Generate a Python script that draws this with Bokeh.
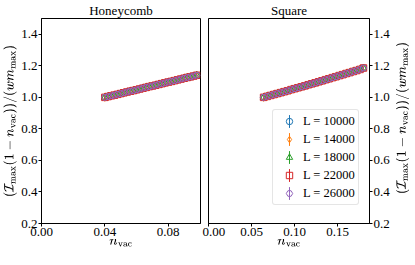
import math
from bokeh.plotting import figure
from bokeh.layouts import row
from bokeh.models import Range1d, FixedTicker, PrintfTickFormatter, Legend, LegendItem
from bokeh.embed import file_html
from bokeh.resources import INLINE

# ---- data ----
L_values = [10000, 14000, 18000, 22000, 26000]
colors = ["#1f77b4", "#ff7f0e", "#2ca02c", "#d62728", "#9467bd"]
markers = ["circle", "diamond", "triangle", "square", "hex"]
marker_sizes = [6.5, 8, 6.5, 6.5, 6.5]

hc_n = [0.040, 0.042, 0.044, 0.046, 0.048, 0.050, 0.052, 0.054, 0.056, 0.058,
        0.060, 0.062, 0.064, 0.066, 0.068, 0.070, 0.072, 0.074, 0.076, 0.078,
        0.080, 0.082, 0.084, 0.086, 0.088, 0.090, 0.092, 0.094, 0.096, 0.098]
hc_y = [1.000, 1.005, 1.010, 1.014, 1.019, 1.024, 1.029, 1.034, 1.039, 1.043,
        1.048, 1.053, 1.058, 1.063, 1.068, 1.072, 1.077, 1.082, 1.087, 1.092,
        1.097, 1.101, 1.106, 1.111, 1.116, 1.121, 1.126, 1.130, 1.135, 1.140]

sq_n = [0.064, 0.068, 0.072, 0.076, 0.080, 0.084, 0.088, 0.092, 0.096, 0.100,
        0.104, 0.108, 0.112, 0.116, 0.120, 0.124, 0.128, 0.132, 0.136, 0.140,
        0.144, 0.148, 0.152, 0.156, 0.160, 0.164, 0.168, 0.172, 0.176, 0.180]
sq_y = [1.000, 1.006, 1.012, 1.018, 1.024, 1.030, 1.036, 1.042, 1.049, 1.055,
        1.061, 1.067, 1.073, 1.080, 1.086, 1.092, 1.099, 1.105, 1.112, 1.118,
        1.125, 1.131, 1.138, 1.144, 1.151, 1.157, 1.164, 1.170, 1.177, 1.186]
err = 0.004

hc_xticks = [0.0, 0.04, 0.08]
sq_xticks = [0.0, 0.05, 0.10, 0.15]
yticks = [0.2, 0.4, 0.6, 0.8, 1.0, 1.2, 1.4]

FONT = "Liberation Serif"
xlabel = r"$$n_{\mathrm{vac}}$$"
ylabel = r"$$(\mathcal{I}_{\max}(1-n_{\mathrm{vac}}))/(w m_{\max})$$"

FW1, FW2, FH = 159, 161, 205


def style(p, xticks):
    p.xgrid.visible = False
    p.ygrid.visible = False
    p.outline_line_color = "black"
    p.outline_line_width = 1
    p.title.align = "center"
    p.title.text_font = FONT
    p.title.text_font_size = "13px"
    p.title.text_font_style = "normal"
    p.title.text_color = "black"
    p.title.standoff = 1
    p.title.offset = 0
    for ax in p.xaxis + p.yaxis:
        ax.axis_line_color = "black"
        ax.major_tick_line_color = "black"
        ax.major_tick_out = 3
        ax.major_tick_in = 0
        ax.minor_tick_out = 0
        ax.minor_tick_in = 0
        ax.major_label_text_font = FONT
        ax.major_label_text_font_size = "13px"
        ax.major_label_text_color = "black"
        ax.major_label_standoff = 1
        ax.axis_label_text_font = FONT
        ax.axis_label_text_font_size = "12px"
        ax.axis_label_text_font_style = "normal"
        ax.axis_label_text_color = "black"
        ax.axis_label_standoff = 1
    p.xaxis.ticker = FixedTicker(ticks=xticks)
    p.xaxis.formatter = PrintfTickFormatter(format="%.2f")
    p.xaxis.axis_label_standoff = 0
    p.yaxis.ticker = FixedTicker(ticks=yticks)
    p.yaxis.formatter = PrintfTickFormatter(format="%.1f")
    p.xaxis.axis_label = xlabel


def draw(p, xs, ys):
    items = []
    for L, c, m, s in zip(L_values, colors, markers, marker_sizes):
        e = p.ellipse(x=xs, y=ys, width=1e-7, height=err, fill_color=None,
                      line_color=c, line_width=1)
        r = p.scatter(x=xs, y=ys, marker=m, size=s, fill_color=None,
                      line_color=c, line_width=1)
        items.append(LegendItem(label=f"L = {L}", renderers=[e, r]))
    return items


p1 = figure(frame_width=FW1, frame_height=FH, x_range=Range1d(0, 0.1004), y_range=Range1d(0.2, 1.5),
            title="Honeycomb", output_backend="svg", toolbar_location=None,
            min_border_left=36, min_border_right=2, min_border_top=0, min_border_bottom=0)
style(p1, hc_xticks)
p1.yaxis.axis_label = ylabel
draw(p1, hc_n, hc_y)

p2 = figure(frame_width=FW2, frame_height=FH, x_range=Range1d(0, 0.187), y_range=Range1d(0.2, 1.5),
            title="Square", output_backend="svg", toolbar_location=None,
            y_axis_location="right",
            min_border_left=6, min_border_right=0, min_border_top=0, min_border_bottom=0)
style(p2, sq_xticks)
items = draw(p2, sq_n, sq_y)

legend = Legend(items=items, location=(64, 18))
legend.label_text_font = FONT
legend.label_text_font_size = "12.5px"
legend.label_text_color = "black"
legend.glyph_width = 26
legend.glyph_height = 16
legend.spacing = 2
legend.padding = 3
legend.margin = 0
legend.label_standoff = 1
legend.border_line_color = "#cccccc"
legend.border_line_width = 1
legend.background_fill_alpha = 0.8
if "border_radius" in legend.properties():
    legend.border_radius = 3
p2.add_layout(legend, "center")

# narrow holder for the right-hand y-axis label (reads bottom to top, as in the reference)
p3 = figure(frame_width=1, height=249, x_range=Range1d(0, 1), y_range=Range1d(0.2, 1.5),
            output_backend="svg", toolbar_location=None, x_axis_location=None,
            min_border_left=13, min_border_right=0, min_border_top=12, min_border_bottom=32)
p3.outline_line_color = None
p3.xgrid.visible = False
p3.ygrid.visible = False
ax3 = p3.yaxis[0]
ax3.ticker = FixedTicker(ticks=[])
ax3.axis_line_color = None
ax3.major_tick_out = 0
ax3.major_tick_in = 0
ax3.minor_tick_out = 0
ax3.minor_tick_in = 0
ax3.major_label_text_font_size = "0px"
ax3.major_label_standoff = 0
ax3.axis_label = ylabel
ax3.axis_label_text_font = FONT
ax3.axis_label_text_font_size = "12px"
ax3.axis_label_text_font_style = "normal"
ax3.axis_label_text_color = "black"
ax3.axis_label_standoff = 0

layout = row(p1, p2, p3)
open("out.html", "w").write(file_html(layout, INLINE))
